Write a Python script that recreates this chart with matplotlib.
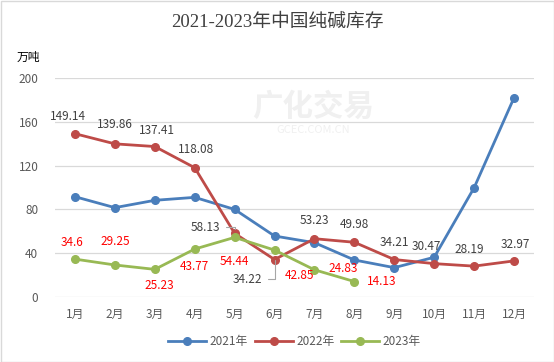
import matplotlib
matplotlib.use("Agg")
import matplotlib.pyplot as plt
from matplotlib.patches import Rectangle
import numpy as np

plt.rcParams['font.family'] = ['Noto Sans CJK SC', 'DejaVu Sans']

# data
months = ['1月', '2月', '3月', '4月', '5月', '6月', '7月', '8月', '9月', '10月', '11月', '12月']
inv_2021 = [91.6, 81.6, 88.3, 91.0, 80.0, 55.7, 49.6, 33.8, 26.8, 36.3, 99.8, 182.0]
inv_2022 = [149.14, 139.86, 137.41, 118.08, 58.13, 34.22, 53.23, 49.98, 34.21, 30.47, 28.19, 32.97]
inv_2023 = [34.6, 29.25, 25.23, 43.77, 54.44, 42.85, 24.83, 14.13]
series_names = ['2021年', '2022年', '2023年']

# label offsets in pixels (dx right, dy down)
off_2022 = [(-7, -17), (0, -19), (2, -16.5), (1, -18), (-29, -6), (-27, 19.5),
            (0, -18), (0, -18), (0, -17.5), (-8, -17), (-5, -17), (1, -16)]
off_2023 = [(-3, -17), (0, -23), (5, 16), (0, 17), (0, 24), (25, 25), (29, -1), (27, 0)]

c21, c22, c23 = '#4a7ebb', '#be4b48', '#98b954'

fig = plt.figure(figsize=(5.54, 3.62), dpi=100)
ax = fig.add_axes([55 / 554, 65 / 362, 479 / 554, 219 / 362])

x = np.arange(len(months))
lw, ms = 2.0, 5.5
ax.plot(x, inv_2021, color=c21, lw=lw, marker='o', ms=ms, label=series_names[0], zorder=3)
ax.plot(x, inv_2022, color=c22, lw=lw, marker='o', ms=ms, label=series_names[1], zorder=3)
ax.plot(x[:len(inv_2023)], inv_2023, color=c23, lw=lw, marker='o', ms=ms, label=series_names[2], zorder=4)

ax.set_xlim(-0.5, 11.5)
ax.set_ylim(0, 200)
ax.set_yticks(np.arange(0, 201, 40))
ax.set_xticks(x)
ax.set_xticklabels(months)
ax.grid(axis='y', color='#d9d9d9', lw=0.9)
ax.set_axisbelow(True)
for s in ax.spines.values():
    s.set_visible(False)
ax.tick_params(length=0, colors='#595959', labelsize=8.5)
ax.tick_params(axis='x', pad=8)
ax.tick_params(axis='y', pad=12)

k = 0.72
for i, v in enumerate(inv_2022):
    dx, dy = off_2022[i]
    if i == 4:
        ax.annotate(f'{v:.2f}', (i, v), xytext=(dx * k, -dy * k), textcoords='offset points',
                    ha='center', va='center', fontsize=8.5, color='#404040',
                    arrowprops=dict(arrowstyle='-', color='#a6a6a6', lw=0.8, shrinkA=2, shrinkB=3,
                                    relpos=(1, 0.5),
                                    connectionstyle='angle,angleA=0,angleB=90,rad=0'))
    elif i == 5:
        ax.annotate(f'{v:.2f}', (i, v), xytext=(dx * k, -dy * k), textcoords='offset points',
                    ha='center', va='center', fontsize=8.5, color='#404040',
                    arrowprops=dict(arrowstyle='-', color='#a6a6a6', lw=0.8, shrinkA=2, shrinkB=0,
                                    relpos=(1, 0.5),
                                    connectionstyle='angle,angleA=0,angleB=90,rad=0'))
    else:
        ax.annotate(f'{v:.2f}', (i, v), xytext=(dx * k, -dy * k), textcoords='offset points',
                    ha='center', va='center', fontsize=8.5, color='#404040')
for i, v in enumerate(inv_2023):
    dx, dy = off_2023[i]
    ax.annotate(f'{v:g}', (i, v), xytext=(dx * k, -dy * k), textcoords='offset points',
                ha='center', va='center', fontsize=8.5, color='#ff0000', zorder=5)

# watermark
fig.text(0.565, 0.705, '广化交易', fontsize=22, color='#f0f0f0', ha='center', va='center',
         fontweight='bold', zorder=0)
fig.text(0.565, 0.64, 'GCEC.COM.CN', fontsize=8, color='#f0f0f0', ha='center', va='center', zorder=0)

fig.text(0.5, 0.94, '2021-2023年中国纯碱库存', fontsize=13.5, color='#404040', ha='center', va='center',
         family=['Liberation Serif', 'Noto Sans CJK SC'])
fig.text(28 / 554, 1 - 57 / 362, '万吨', fontsize=8.5, color='#000000', ha='center', va='center')

leg = ax.legend(loc='center', bbox_to_anchor=(0.5, (362 - 342 - 65) / 219), ncol=3, frameon=False,
                fontsize=8.5, handlelength=3.2, columnspacing=0.6, handletextpad=0.3)
for t in leg.get_texts():
    t.set_color('#595959')

fig.patches.append(Rectangle((0.5 / 554, 0.5 / 362), 553 / 554, 361 / 362, transform=fig.transFigure,
                             fill=False, edgecolor='#d9d9d9', lw=1))

fig.savefig('out.png', dpi=100)
